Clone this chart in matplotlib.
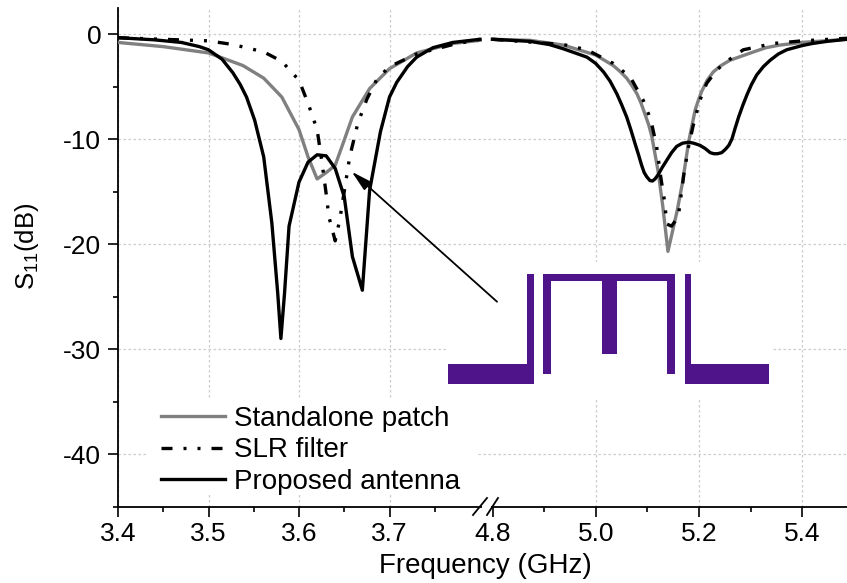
import numpy as np
import matplotlib
matplotlib.use("Agg")
import matplotlib.pyplot as plt
from matplotlib.patches import Rectangle, Polygon

plt.rcParams['font.family'] = ['Liberation Sans', 'DejaVu Sans']
plt.rcParams['mathtext.fontset'] = 'custom'
plt.rcParams['mathtext.rm'] = 'Liberation Sans'
plt.rcParams['axes.unicode_minus'] = False

# values, low band and high band kept apart
patch_f_lo = [3.4, 3.45, 3.5, 3.516, 3.538, 3.561, 3.581, 3.6, 3.61, 3.62, 3.63, 3.64, 3.65, 3.659, 3.678, 3.7, 3.73, 3.77, 3.8]
patch_s_lo = [-0.8, -1.2, -1.8, -2.3, -3.0, -4.2, -6.0, -9.1, -11.7, -13.8, -13.2, -12.5, -10.1, -7.9, -5.2, -3.3, -1.8, -0.9, -0.6]
patch_f_hi = [4.8, 4.873, 4.937, 5.0, 5.017, 5.034, 5.048, 5.06, 5.07, 5.08, 5.088, 5.096, 5.103, 5.109, 5.121, 5.13, 5.14, 5.158,
              5.168, 5.18, 5.187, 5.193, 5.199, 5.205, 5.216, 5.228, 5.243, 5.26, 5.283, 5.306, 5.33, 5.357, 5.4, 5.487]
patch_s_hi = [-0.5, -0.6, -1.05, -2.0, -2.5, -3.0, -3.6, -4.2, -4.9, -5.7, -6.6, -7.7, -8.7, -9.8, -13.1, -16.4, -20.7, -16.8,
              -14.2, -10.3, -8.6, -7.2, -6.3, -5.5, -4.4, -3.6, -3.0, -2.5, -2.1, -1.7, -1.3, -1.05, -0.8, -0.5]

slr_f_lo = [3.4, 3.45, 3.5, 3.527, 3.561, 3.581, 3.6, 3.61, 3.62, 3.625, 3.63, 3.633, 3.64, 3.645, 3.65, 3.656, 3.665, 3.675, 3.686, 3.7, 3.73, 3.77, 3.8]
slr_s_lo = [-0.35, -0.5, -0.65, -1.0, -1.7, -2.6, -4.4, -6.6, -9.1, -12.0, -15.2, -17.4, -19.7, -17.7, -15.0, -11.7, -8.5, -6.2, -4.3, -3.1, -1.9, -1.0, -0.5]
slr_f_hi = [4.8, 4.937, 4.983, 5.034, 5.067, 5.092, 5.107, 5.118, 5.126, 5.133, 5.138, 5.147, 5.16, 5.171, 5.18, 5.189, 5.202, 5.215, 5.235, 5.254, 5.286, 5.344, 5.4, 5.487]
slr_s_hi = [-0.5, -1.0, -1.5, -2.8, -4.1, -6.3, -8.2, -10.7, -13.6, -15.8, -18.1, -18.3, -17.4, -13.3, -10.7, -8.7, -6.3, -4.7, -3.4, -2.6, -1.5, -0.9, -0.65, -0.4]

ant_f_lo = [3.4, 3.44, 3.47, 3.49, 3.5, 3.515, 3.527, 3.535, 3.542, 3.551, 3.561, 3.57, 3.5765, 3.58, 3.584, 3.589, 3.6, 3.61, 3.62,
            3.63, 3.64, 3.65, 3.659, 3.67, 3.678, 3.69, 3.7, 3.708, 3.72, 3.73, 3.748, 3.77, 3.8]
ant_s_lo = [-0.35, -0.55, -0.8, -1.2, -1.5, -2.4, -3.7, -4.8, -6.0, -8.2, -11.7, -18.0, -24.7, -29.0, -24.7, -18.3, -14.1, -12.2, -11.5,
            -11.6, -12.8, -15.5, -21.2, -24.4, -14.9, -9.3, -6.0, -4.6, -3.1, -2.2, -1.3, -0.8, -0.5]
ant_f_hi = [4.8, 4.873, 4.91, 4.937, 4.96, 4.983, 5.0, 5.015, 5.028, 5.041, 5.05, 5.06, 5.068, 5.076, 5.083, 5.089, 5.094, 5.099, 5.105, 5.11,
            5.115, 5.121, 5.129, 5.138, 5.147, 5.157, 5.168, 5.18, 5.19, 5.202, 5.212, 5.222, 5.229, 5.236, 5.244, 5.251, 5.258, 5.264, 5.27,
            5.277, 5.285, 5.293, 5.302, 5.312, 5.325, 5.338, 5.354, 5.37, 5.385, 5.4, 5.42, 5.448, 5.487]
ant_s_hi = [-0.5, -0.7, -1.0, -1.4, -1.8, -2.2, -2.8, -3.6, -4.5, -5.7, -6.7, -7.9, -9.1, -10.4, -11.5, -12.5, -13.2, -13.6, -13.95, -14.0,
            -13.8, -13.4, -12.7, -12.0, -11.3, -10.7, -10.4, -10.3, -10.4, -10.6, -10.9, -11.3, -11.4, -11.4, -11.3, -11.0, -10.6, -10.0, -9.0,
            -7.9, -6.8, -5.8, -4.8, -3.9, -3.1, -2.5, -1.9, -1.5, -1.3, -1.1, -0.9, -0.7, -0.5]

x_major = [3.4, 3.5, 3.6, 3.7, 4.8, 5.0, 5.2, 5.4]
x_minor = [3.45, 3.55, 3.65, 3.75, 4.9, 5.1, 5.3]
x_labels = ['3.4', '3.5', '3.6', '3.7', '4.8', '5.0', '5.2', '5.4']
y_major = [0, -10, -20, -30, -40]
y_minor = [-5, -15, -25, -35, -45]
y_labels = ['0', '-10', '-20', '-30', '-40']

# broken axis: the 3.8-4.8 gap is squeezed to a few pixels
scale_in = [3.4, 3.8, 4.8, 5.6]
scale_out = [0, 362, 374.5, 374.5 + 0.8 * 516]


def forward(x):
    return np.interp(x, scale_in, scale_out)


def inverse(u):
    return np.interp(u, scale_out, scale_in)


def join(lo, hi):
    return lo + [np.nan] + hi


W, H = 847, 583
fig = plt.figure(figsize=(W / 100, H / 100), dpi=100)
ax = fig.add_axes([118 / W, 1 - 506.5 / H, (W - 118) / W, (506.5 - 8) / H])
ax.set_xscale('function', functions=(forward, inverse))

ax.plot(join(patch_f_lo, patch_f_hi), join(patch_s_lo, patch_s_hi), color='#808080', lw=2.4,
        label='Standalone patch', zorder=3)
ax.plot(join(slr_f_lo, slr_f_hi), join(slr_s_lo, slr_s_hi), color='black', lw=2.4,
        dashes=(3.3, 3.3, 0.9, 3.3, 0.9, 3.3), label='SLR filter', zorder=4)
ax.plot(join(ant_f_lo, ant_f_hi), join(ant_s_lo, ant_s_hi), color='black', lw=2.4,
        label='Proposed antenna', zorder=5)

ax.set_xlim(3.4, 5.487)
ax.set_ylim(-45, 2.48)
ax.set_xticks(x_major)
ax.set_xticklabels(x_labels)
ax.set_xticks(x_minor, minor=True)
ax.set_yticks(y_major)
ax.set_yticklabels(y_labels)
ax.set_yticks(y_minor, minor=True)
ax.tick_params(axis='both', which='major', length=7, width=1.2, labelsize=19, pad=4)
ax.tick_params(axis='y', which='major', pad=5)
ax.tick_params(axis='both', which='minor', length=3.8, width=1.2)
ax.grid(True, which='major', color='#cccccc', ls=(0, (2, 2)), lw=0.9)
ax.xaxis.get_gridlines()[4].set_visible(False)
ax.set_axisbelow(True)
for s in ['top', 'right']:
    ax.spines[s].set_visible(False)
for s in ['left', 'bottom']:
    ax.spines[s].set_linewidth(1.3)

fig.text(485 / W, 1 - 566 / H, 'Frequency (GHz)', fontsize=20, ha='center', va='center')
fig.text(27 / W, 1 - 246 / H, 'S$_{11}$(dB)', fontsize=18.5, rotation=90, ha='center', va='center')

# overlay in image pixels for the layout sketch, arrow and axis break
over = fig.add_axes([0, 0, 1, 1], zorder=10)
over.set_xlim(0, W)
over.set_ylim(H, 0)
over.axis('off')
over.patch.set_alpha(0)

over.add_patch(Rectangle((448, 262), 324, 136, fc='white', ec='none'))
purple = '#4f148a'
over.add_patch(Polygon([(448, 363.5), (527.3, 363.5), (527.3, 274.3), (533.7, 274.3), (533.7, 384), (448, 384)], fc=purple))
over.add_patch(Polygon([(543.3, 274.3), (675, 274.3), (675, 374), (667.3, 374), (667.3, 280.7), (616.7, 280.7), (616.7, 354),
                        (601.7, 354), (601.7, 280.7), (551, 280.7), (551, 374), (543.3, 374)], fc=purple))
over.add_patch(Polygon([(684.7, 274.3), (691, 274.3), (691, 363.5), (769, 363.5), (769, 384), (684.7, 384)], fc=purple))
over.annotate('', xy=(351.7, 171.7), xytext=(497, 301.7),
              arrowprops=dict(arrowstyle='-|>,head_length=0.7,head_width=0.18', color='black', lw=1.3,
                              mutation_scale=18, shrinkA=0, shrinkB=0))

over.add_patch(Rectangle((148, 398), 330, 96, fc='white', ec='none'))
over.add_patch(Rectangle((482, 503), 9, 7, fc='white', ec='none'))
over.plot([473, 487], [515, 498], color='black', lw=1.3)
over.plot([487, 498], [515, 498], color='black', lw=1.3)

handles, labels = ax.get_legend_handles_labels()
leg = over.legend(handles, labels, loc='upper left', bbox_to_anchor=(161 / W, 1 - 406 / H), frameon=False, fontsize=20,
                  handlelength=2.3, handletextpad=0.33, labelspacing=0.19, borderaxespad=0, borderpad=0)

plt.savefig("out.png", dpi=100)
plt.close()
